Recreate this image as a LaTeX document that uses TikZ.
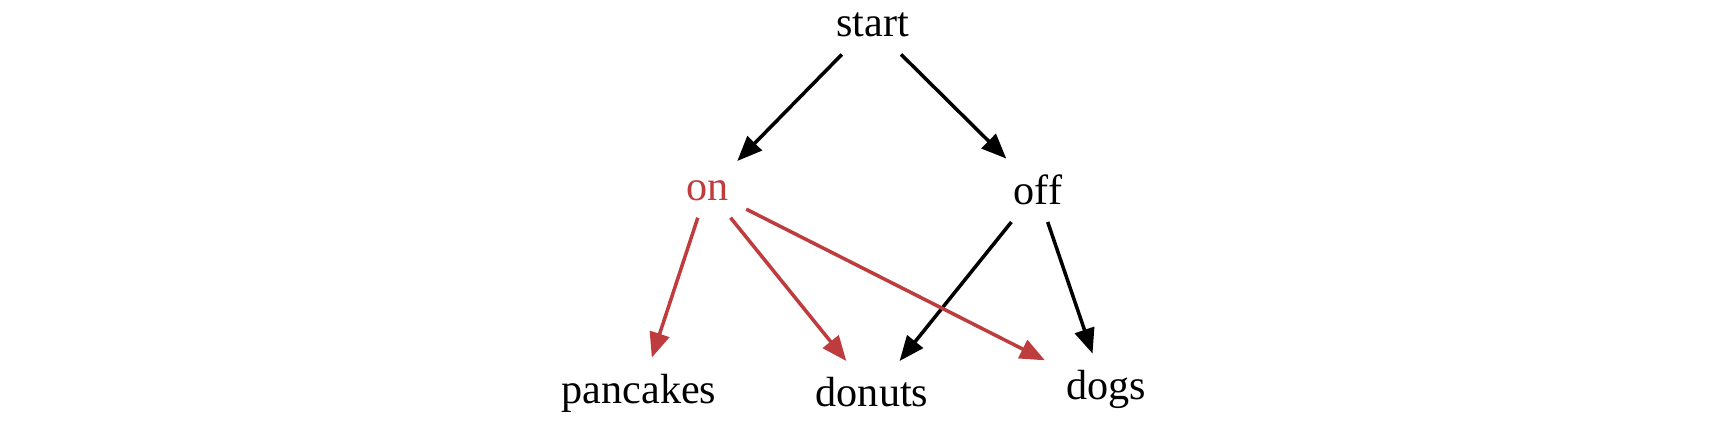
\documentclass[tikz,border=0pt]{standalone}
\usepackage{fontspec}
\setmainfont{Liberation Serif}
\usetikzlibrary{arrows.meta}
\definecolor{pathred}{RGB}{190,60,62}
\tikzset{
  every node/.style={anchor=base, font=\fontsize{12}{14}\selectfont,
    inner xsep=0.08cm, inner ysep=0.08cm, text height=0.37cm, text depth=0.09cm},
  hl/.style={text=pathred},
  edge/.style={line width=1pt, -{Triangle[length=0.25cm, width=0.2cm]}},
  hledge/.style={edge, draw=pathred, fill=pathred}
}
\begin{document}
\begin{tikzpicture}
  \useasboundingbox (0,0) rectangle (17.23,4.24);
  \draw
    (8.725,3.873) node (start){start}
    (7.075,2.24) node[hl] (on){on}
    (10.38,2.197) node (off){off}
    (6.39,0.207) node (pancakes){pancakes}
    (8.72,0.173) node (donuts){donuts}
    (11.06,0.247) node (dogs){dogs};
  \begin{scope}[edge]
    \draw (start.226.7) to (on.40.9);
    \draw (start.312.7) to (off.135.2);
    \draw (off.230.3) to (donuts.49.9);
    \draw (off.287) to (dogs.113.2);
  \end{scope}
  \begin{scope}[hledge]
    \draw (on.253.6) to (pancakes.68.5);
    \draw (on.306.2) to (donuts.129.9);
    \draw[shorten <=0.1cm, shorten >=0.14cm] (on.328.5) to (dogs.159.4);
  \end{scope}
\end{tikzpicture}
\end{document}
